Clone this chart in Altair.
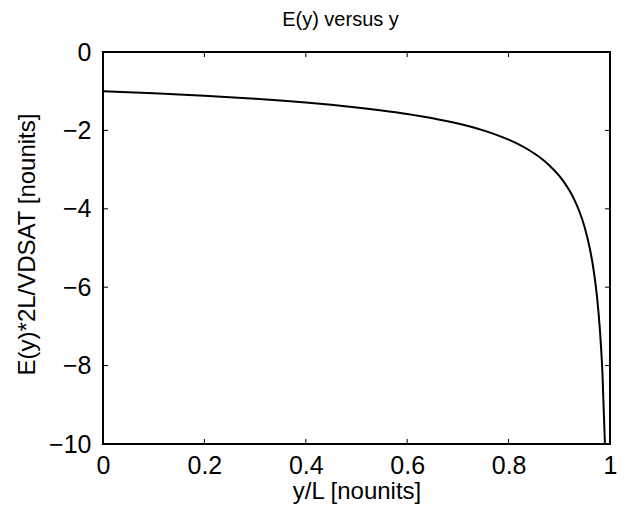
import altair as alt
import pandas as pd

# Values
y_over_L = [0.0, 0.05, 0.1, 0.15, 0.2, 0.25, 0.3, 0.35, 0.4, 0.45, 0.5, 0.55, 0.6,
            0.65, 0.7, 0.75, 0.78, 0.8, 0.82, 0.84, 0.86, 0.88, 0.9, 0.91, 0.92,
            0.93, 0.94, 0.95, 0.96, 0.965, 0.97, 0.975, 0.98, 0.985, 0.99]
E_norm = [-1.000, -1.026, -1.054, -1.085, -1.118, -1.155, -1.195, -1.240, -1.291,
          -1.348, -1.414, -1.491, -1.581, -1.690, -1.826, -2.000, -2.132, -2.236,
          -2.357, -2.500, -2.673, -2.887, -3.162, -3.333, -3.536, -3.780, -4.082,
          -4.472, -5.000, -5.345, -5.774, -6.325, -7.071, -8.165, -10.0]

x_ticks = [0, 0.2, 0.4, 0.6, 0.8, 1]
y_ticks = [-10, -8, -6, -4, -2, 0]

W, H = 507, 392
FONT = "Liberation Sans"

df = pd.DataFrame({"x": y_over_L, "y": E_norm})
xt = pd.DataFrame({"x": x_ticks})
yt = pd.DataFrame({"y": y_ticks})

xscale = alt.Scale(domain=[0, 1], nice=False, zero=False)
yscale = alt.Scale(domain=[-10, 0], nice=False, zero=False)

xaxis = alt.Axis(values=x_ticks, format="~g", title="y/L [nounits]",
                 grid=False, domain=False, ticks=False, labelPadding=9,
                 labelFlush=False, labelOverlap=False,
                 labelFontSize=25, labelFont=FONT, labelColor="black",
                 titleFontSize=24, titleFont=FONT, titleFontWeight="normal",
                 titleColor="black", titleX=W / 2, titleY=47,
                 titleBaseline="middle", titleAlign="center")
yaxis = alt.Axis(values=y_ticks, format="d", title="E(y)*2L/VDSAT [nounits]",
                 grid=False, domain=False, ticks=False, labelPadding=12,
                 labelFlush=False, labelOverlap=False,
                 labelFontSize=25, labelFont=FONT, labelColor="black",
                 titleFontSize=24, titleFont=FONT, titleFontWeight="normal",
                 titleColor="black", titleX=-76, titleY=H / 2 - 4,
                 titleAngle=270, titleBaseline="middle", titleAlign="center")

line = alt.Chart(df).mark_line(color="black", strokeWidth=2, clip=True,
                               interpolate="monotone").encode(
    x=alt.X("x:Q", scale=xscale, axis=xaxis),
    y=alt.Y("y:Q", scale=yscale, axis=yaxis),
)

tick_len = 5
bx = alt.Chart(xt).mark_rule(color="black", strokeWidth=1).encode(
    x=alt.X("x:Q", scale=xscale, axis=xaxis), y=alt.value(H), y2=alt.value(H - tick_len))
tx = alt.Chart(xt).mark_rule(color="black", strokeWidth=1).encode(
    x=alt.X("x:Q", scale=xscale, axis=xaxis), y=alt.value(0), y2=alt.value(tick_len))
ly = alt.Chart(yt).mark_rule(color="black", strokeWidth=1).encode(
    y=alt.Y("y:Q", scale=yscale, axis=yaxis), x=alt.value(0), x2=alt.value(tick_len))
ry = alt.Chart(yt).mark_rule(color="black", strokeWidth=1).encode(
    y=alt.Y("y:Q", scale=yscale, axis=yaxis), x=alt.value(W), x2=alt.value(W - tick_len))

chart = alt.layer(line, bx, tx, ly, ry).properties(
    width=W, height=H,
    title=alt.TitleParams("E(y) versus y", fontSize=20, font=FONT, fontWeight="normal",
                          color="black", offset=10, dx=-16),
    autosize=alt.AutoSizeParams(type="none"),
    padding={"left": 95, "top": 44, "right": 7, "bottom": 70},
).configure(background="white").configure_view(stroke="black", strokeWidth=2)

chart.save("out.html", embed_options={"renderer": "svg", "actions": False})
